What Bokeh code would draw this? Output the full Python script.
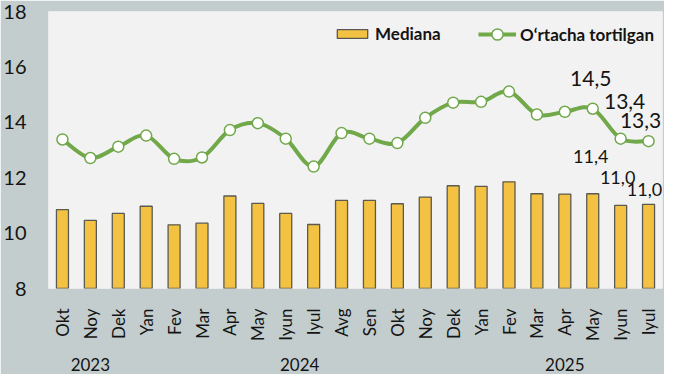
import math
from bokeh.plotting import figure
from bokeh.models import FactorRange, Range1d, FixedTicker, Legend, LegendItem
from bokeh.core.properties import value
from bokeh.embed import file_html
from bokeh.resources import INLINE

# ---- data ----
years = ["2023"] * 3 + ["2024"] * 12 + ["2025"] * 7
months = ["Okt", "Noy", "Dek",
          "Yan", "Fev", "Mar", "Apr", "May", "Iyun", "Iyul", "Avg", "Sen", "Okt", "Noy", "Dek",
          "Yan", "Fev", "Mar", "Apr", "May", "Iyun", "Iyul"]
mediana = [10.85, 10.46, 10.71,
           10.97, 10.30, 10.36, 11.34, 11.07, 10.71, 10.31, 11.18, 11.18, 11.06, 11.30, 11.71,
           11.69, 11.85, 11.42, 11.41, 11.42, 11.00, 11.04]
ortacha = [13.38, 12.71, 13.12,
           13.52, 12.68, 12.73, 13.72, 13.97, 13.41, 12.40, 13.61, 13.41, 13.25, 14.16, 14.71,
           14.74, 15.11, 14.28, 14.38, 14.49, 13.41, 13.32]
y_ticks = [8, 10, 12, 14, 16, 18]
labelled_idx = [19, 20, 21]
series_names = ["Mediana", "O\u2018rtacha tortilgan"]

# ---- styles ----
FONT = "Lato"
BAR_FILL = "#f4c242"
BAR_LINE = "#5a5a52"
GREEN = "#70a84a"
OUTER_BG = "#c3cdce"
PLOT_BG = "#f2f2f2"
TXT = "#141414"
line_lbl_dx = [-2, 4, -8]
line_lbl_dy = [-30, -37, -21]
bar_lbl_dx = [-2, -3, -4]
bar_lbl_dy = [-37, -28, -15]

n = len(months)
factors = list(zip(years, months))

p = figure(width=664, height=374, output_backend="svg", toolbar_location=None,
           x_range=FactorRange(*factors, range_padding=0, factor_padding=0,
                               group_padding=0, subgroup_padding=0),
           y_range=Range1d(8, 18),
           background_fill_color=PLOT_BG, border_fill_color=OUTER_BG,
           min_border_left=43, min_border_right=2, min_border_top=11, min_border_bottom=78)
p.outline_line_color = None
p.xgrid.grid_line_color = None
p.ygrid.grid_line_color = None

bars = p.vbar(x=factors, top=mediana, bottom=8, width=0.43,
              fill_color=BAR_FILL, line_color=BAR_LINE, line_width=1.3)

# smooth line (Bezier segments through data points); numeric = synthetic factor coordinates
xs = [i + 0.5 for i in range(n)]
ys = ortacha
x0, y0, x1, y1, cx0, cy0, cx1, cy1 = [], [], [], [], [], [], [], []
for i in range(n - 1):
    im = max(i - 1, 0)
    ip2 = min(i + 2, n - 1)
    x0.append(xs[i]); y0.append(ys[i])
    x1.append(xs[i + 1]); y1.append(ys[i + 1])
    cx0.append(xs[i] + (xs[i + 1] - xs[im]) / 6)
    cy0.append(ys[i] + (ys[i + 1] - ys[im]) / 6)
    cx1.append(xs[i + 1] - (xs[ip2] - xs[i]) / 6)
    cy1.append(ys[i + 1] - (ys[ip2] - ys[i]) / 6)
curve = p.bezier(x0=x0, y0=y0, x1=x1, y1=y1, cx0=cx0, cy0=cy0, cx1=cx1, cy1=cy1,
                 line_color=GREEN, line_width=4)
marks = p.scatter(x=factors, y=ys, size=11, marker="circle", fill_color="white",
                  line_color=GREEN, line_width=1.5)

# data labels
fmt = lambda v: f"{v:.1f}".replace(".", ",")
p.text(x=[factors[i] for i in labelled_idx], y=[ortacha[i] for i in labelled_idx],
       text=[fmt(ortacha[i]) for i in labelled_idx],
       x_offset=line_lbl_dx, y_offset=line_lbl_dy,
       text_align="center", text_baseline="middle", text_color=TXT,
       text_font=value(FONT), text_font_size="21px")
p.text(x=[factors[i] for i in labelled_idx], y=[mediana[i] for i in labelled_idx],
       text=[fmt(mediana[i]) for i in labelled_idx],
       x_offset=bar_lbl_dx, y_offset=bar_lbl_dy,
       text_align="center", text_baseline="middle", text_color=TXT,
       text_font=value(FONT), text_font_size="18px")

leg_style = dict(orientation="horizontal", glyph_width=38, label_standoff=4,
                 padding=0, margin=0, background_fill_alpha=0, border_line_color=None,
                 label_text_font=FONT, label_text_font_style="bold",
                 label_text_font_size="17px", label_text_color=TXT)
legend1 = Legend(items=[LegendItem(label=series_names[0], renderers=[bars])],
                 location=(285, 244), glyph_height=11, **leg_style)
legend2 = Legend(items=[LegendItem(label=series_names[1], renderers=[curve, marks])],
                 location=(430, 240), glyph_height=28, **leg_style)
p.add_layout(legend1)
p.add_layout(legend2)

# axes
p.yaxis.ticker = FixedTicker(ticks=y_ticks)
p.yaxis.axis_line_color = None
p.yaxis.major_tick_line_color = None
p.yaxis.minor_tick_line_color = None
p.yaxis.major_label_standoff = 16
p.yaxis.major_label_text_font = FONT
p.yaxis.major_label_text_font_size = "20px"
p.yaxis.major_label_text_color = TXT

xa = p.xaxis[0]
xa.axis_line_color = None
xa.major_tick_line_color = None
xa.minor_tick_line_color = None
xa.separator_line_color = None
xa.major_label_orientation = math.pi / 2
xa.major_label_standoff = 14
xa.major_label_text_font = FONT
xa.major_label_text_font_size = "17px"
xa.major_label_text_color = TXT
xa.group_text_font = FONT
xa.group_text_font_size = "17px"
xa.group_text_font_style = "normal"
xa.group_text_color = TXT
xa.group_label_orientation = "horizontal"

open("out.html", "w").write(file_html(p, INLINE))
